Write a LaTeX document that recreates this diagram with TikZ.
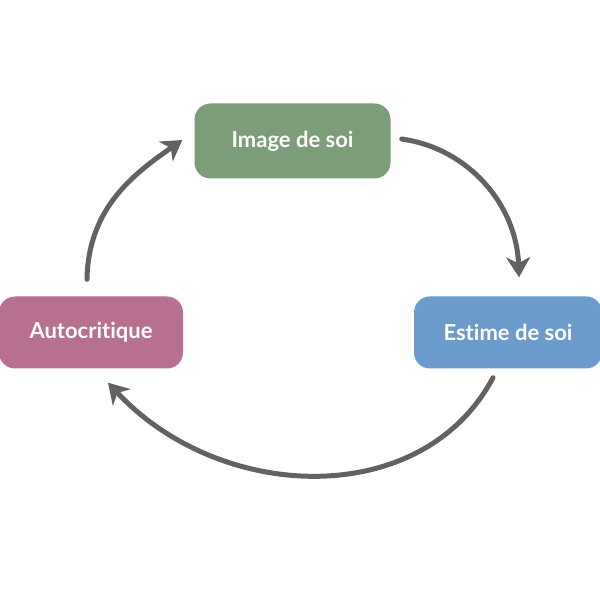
\documentclass[tikz,border=0pt]{standalone}
\usepackage{fontspec}
\setmainfont{Lato}[Ligatures={NoCommon,NoRare,NoContextual}]
\usetikzlibrary{arrows.meta}
\definecolor{cgreen}{HTML}{7B9E79}
\definecolor{cpink}{HTML}{B87090}
\definecolor{cblue}{HTML}{6A9BCB}
\definecolor{carrow}{HTML}{626262}
\tikzset{
  box/.style={rounded corners=16pt, text=white, font=\fontsize{22}{26}\selectfont\bfseries, inner sep=0pt, anchor=center},
  arr/.style={draw=carrow, line width=5pt, line cap=round, -{Stealth[length=20pt,width=24pt,inset=6pt]}}
}
\begin{document}
\begin{tikzpicture}[x=1pt,y=1pt]
\useasboundingbox[fill=white] (0,0) rectangle (600,600);
\node[box, fill=cgreen, minimum width=196pt, minimum height=75pt] (img) at (292.5,459) {Image de soi};
\node[box, fill=cpink, minimum width=184pt, minimum height=72pt] (auto) at (91,267.5) {Autocritique};
\node[box, fill=cblue, minimum width=188pt, minimum height=72pt] (est) at (508,267.5) {Estime de soi};
\draw[arr] ([shift={(11pt,2pt)}]img.east) .. controls +(-8:68) and +(92:72) .. ([shift={(11pt,19pt)}]est.north);
\draw[arr] ([shift={(-4pt,17pt)}]auto.north) .. controls +(89:72) and +(215:58) .. ([shift={(-12pt,1pt)}]img.west);
\draw[arr] ([shift={(-15pt,-9pt)}]est.south) .. controls +(-118:150) and +(-47:165) .. ([shift={(17pt,-14pt)}]auto.south);
\end{tikzpicture}
\end{document}
